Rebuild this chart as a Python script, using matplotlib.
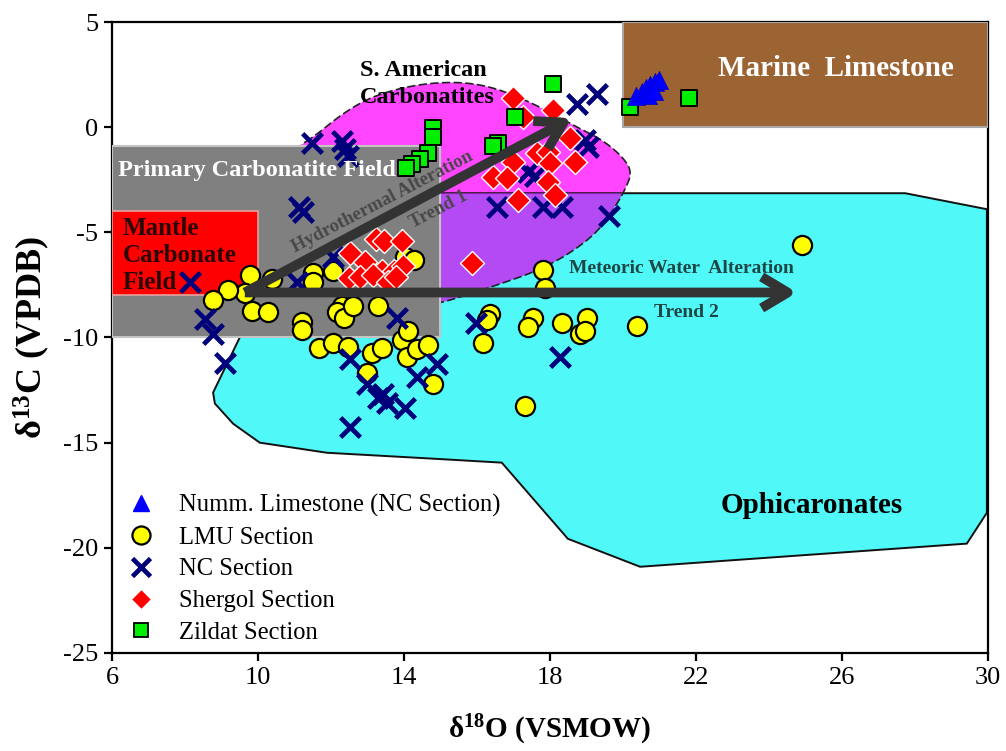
import numpy as np
import matplotlib
matplotlib.use("Agg")
import matplotlib.pyplot as plt
from matplotlib.patches import Polygon, Rectangle
from matplotlib.lines import Line2D

plt.rcParams['font.family'] = ['Liberation Serif', 'DejaVu Serif']
plt.rcParams['mathtext.fontset'] = 'custom'
plt.rcParams['mathtext.rm'] = 'Liberation Serif'
plt.rcParams['mathtext.bf'] = 'Liberation Serif:bold'
plt.rcParams['mathtext.it'] = 'Liberation Serif:italic'
plt.rcParams['axes.unicode_minus'] = False

# ---- sample data: delta18O (x) vs delta13C (y) ----
limestone_x = [20.36, 20.52, 20.63, 20.74, 20.88, 20.99, 20.68, 20.85]
limestone_y = [1.48, 1.67, 1.86, 2.00, 2.14, 2.24, 1.52, 1.71]

lmu_x = [9.78, 9.64, 9.18, 8.77, 9.84, 10.27, 10.38, 11.21, 11.21, 11.51,
         11.51, 12.05, 12.30, 12.16, 12.36, 12.60, 13.29, 14.03, 14.27, 11.67,
         12.05, 12.47, 13.12, 13.40, 13.95, 14.08, 14.36, 14.66, 14.79, 12.99,
         14.11, 17.81, 17.86, 16.36, 16.27, 16.16, 17.53, 17.40, 18.33, 19.01,
         18.82, 18.96, 20.38, 24.90, 17.32]
lmu_y = [-7.05, -7.90, -7.76, -8.24, -8.76, -8.81, -7.24, -9.24, -9.62, -6.95,
         -7.38, -6.86, -8.48, -8.81, -9.05, -8.52, -8.48, -6.19, -6.33, -10.48,
         -10.24, -10.43, -10.76, -10.48, -10.14, -10.95, -10.57, -10.38, -12.19, -11.67,
         -9.67, -6.81, -7.67, -8.86, -9.19, -10.24, -9.05, -9.48, -9.29, -9.05,
         -9.81, -9.67, -9.43, -5.62, -13.24]

nc_x = [8.14, 11.12, 11.23, 12.05, 11.07, 8.55, 8.77, 9.10, 13.81, 12.52,
        12.99, 13.42, 13.53, 13.29, 14.03, 12.52, 14.36, 14.90, 18.27, 15.97,
        11.48, 12.30, 12.38, 12.47, 18.74, 19.29, 19.04, 18.96, 17.40, 17.59,
        16.55, 17.81, 18.33, 19.62]
nc_y = [-7.38, -3.81, -4.05, -6.19, -7.38, -9.10, -9.81, -11.19, -9.05, -11.00,
        -12.19, -12.71, -13.10, -12.90, -13.33, -14.24, -11.90, -11.24, -10.95, -9.29,
        -0.76, -0.67, -1.05, -1.38, 1.10, 1.57, -0.95, -0.62, -2.14, -2.33,
        -3.81, -3.81, -3.81, -4.24]

shergol_x = [16.99, 17.26, 18.08, 18.55, 17.64, 17.95, 18.00, 18.68, 16.99, 16.44,
             16.82, 17.95, 18.14, 17.12, 15.86,
             13.23, 13.45, 13.95, 12.52, 12.93, 13.40, 13.73, 13.97, 12.49, 12.79,
             13.15, 13.56, 13.78]
shergol_y = [1.38, 0.48, 0.81, -0.52, -1.24, -1.19, -1.71, -1.67, -1.67, -2.38,
             -2.43, -2.62, -3.24, -3.48, -6.48,
             -5.33, -5.43, -5.43, -6.00, -6.43, -6.86, -6.86, -6.62, -7.19, -7.14,
             -7.05, -7.38, -7.10]

zildat_x = [18.08, 17.04, 16.58, 16.44, 20.19, 21.81, 14.79, 14.79, 14.66, 14.44,
            14.22, 14.05]
zildat_y = [2.05, 0.48, -0.76, -0.90, 0.95, 1.38, -0.05, -0.48, -1.24, -1.52,
            -1.76, -1.95]

series_labels = ['Numm. Limestone (NC Section)', 'LMU Section', 'NC Section',
                 'Shergol Section', 'Zildat Section']

x_ticks = [6, 10, 14, 18, 22, 26, 30]
y_ticks = [-25, -20, -15, -10, -5, 0, 5]

# ---- field outlines ----
ophi_outline = [(11.2, -3.14), (27.73, -3.14), (29.97, -3.9), (29.97, -18.33),
                (29.42, -19.8), (20.47, -20.9), (18.49, -19.57), (16.68, -15.95),
                (14.79, -15.76), (11.89, -15.48), (10.05, -15.0), (9.32, -14.1),
                (8.82, -13.14), (8.77, -12.62), (9.5, -10.0)]

sam_outline = [(11.15, -0.86), (11.51, -0.48), (12.44, 0.81), (13.34, 1.62),
               (14.71, 2.14), (16.08, 2.10), (17.37, 1.29), (18.74, 0.0),
               (19.45, -0.62), (20.0, -1.43), (20.25, -2.14), (20.05, -3.0),
               (19.73, -3.95), (19.18, -5.24), (17.92, -6.67), (16.36, -7.62),
               (14.99, -8.38), (13.89, -8.71), (12.52, -8.24), (11.15, -6.33),
               (10.74, -3.48), (10.88, -1.57)]


def chaikin(points, n_iter=3):
    pts = np.asarray(points, float)
    for _ in range(n_iter):
        nxt = np.roll(pts, -1, axis=0)
        q = 0.75 * pts + 0.25 * nxt
        r = 0.25 * pts + 0.75 * nxt
        pts = np.empty((2 * len(q), 2))
        pts[0::2] = q
        pts[1::2] = r
    return pts


fig = plt.figure(figsize=(10.06, 7.51), dpi=100)
ax = fig.add_axes([0.1113, 0.1305, 0.8708, 0.8402])
ax.set_xlim(6, 30)
ax.set_ylim(-25, 5)

sam_smooth = chaikin(sam_outline, 3)

# S. American carbonatite field
ax.add_patch(Polygon(sam_smooth, closed=True, facecolor='#ff45ff',
                     edgecolor='none', zorder=1))
# Ophicarbonate field
ophi_fill = Polygon(ophi_outline, closed=True, facecolor='#50f8f8',
                    edgecolor='#111111', lw=1.4, zorder=2)
ax.add_patch(ophi_fill)
# overlap of the two fields
overlap = Polygon(sam_smooth, closed=True, facecolor='#c62cf4',
                  edgecolor='none', alpha=0.85, zorder=3)
ax.add_patch(overlap)
overlap.set_clip_path(ophi_fill)
ax.add_patch(Polygon(sam_smooth, closed=True, fill=False, edgecolor='#222222',
                     lw=1.2, linestyle=(0, (5, 2)), zorder=3.1))

# rectangular fields
ax.add_patch(Rectangle((6, -10), 9, 9.1, facecolor='#808080',
                       edgecolor='#c4c4c4', lw=1.5, zorder=4))
ax.add_patch(Rectangle((6, -8), 4, 4, facecolor='#ff0000',
                       edgecolor='#e6a0a0', lw=1.2, zorder=4.1))
ax.add_patch(Rectangle((20, 0), 10, 5, facecolor='#9b6432',
                       edgecolor='#a8a8a8', lw=1.5, zorder=4))

# samples
ax.scatter(lmu_x, lmu_y, s=190, marker='o', facecolor='#ffff00',
           edgecolor='black', linewidth=1.6, zorder=5)
ax.scatter(nc_x, nc_y, s=200, marker='x', color='#00007a',
           linewidth=3.4, zorder=6)
ax.scatter(shergol_x, shergol_y, s=150, marker='D', facecolor='#ff0000',
           edgecolor='white', linewidth=1.0, zorder=7)
ax.scatter(zildat_x, zildat_y, s=140, marker='s', facecolor='#00ee00',
           edgecolor='black', linewidth=1.4, zorder=8)
ax.scatter(limestone_x, limestone_y, s=170, marker='^', facecolor='#0000ff',
           edgecolor='#0000cc', linewidth=0.5, zorder=9)

# alteration trends
trend_start = (9.64, -7.86)
arrow_kw = dict(arrowstyle='->,head_length=0.75,head_width=0.45', lw=7,
                color='#333333', shrinkA=0, shrinkB=0, mutation_scale=25,
                capstyle='butt')
ax.annotate('', xy=(18.6, 0.43), xytext=trend_start,
            arrowprops=arrow_kw, zorder=10)
ax.annotate('', xy=(24.77, -7.86), xytext=trend_start,
            arrowprops=arrow_kw, zorder=10)

# field and trend labels
ax.text(6.16, -2.05, 'Primary Carbonatite Field', color='white',
        fontsize=17.5, fontweight='bold', ha='left', va='center', zorder=11)
ax.text(6.3, -6.1, 'Mantle\nCarbonate\nField', color='#2a0505',
        fontsize=18, fontweight='bold', ha='left', va='center',
        linespacing=1.22, zorder=11)
ax.text(12.79, 2.05, 'S. American\nCarbonatites', color='black',
        fontsize=17.5, fontweight='bold', ha='left', va='center',
        linespacing=1.35, zorder=11)
ax.text(25.84, 2.81, 'Marine  Limestone', color='white', fontsize=21,
        fontweight='bold', ha='center', va='center', zorder=11)
ax.text(13.4, -3.55, 'Hydrothermal Alteration', color='#474747',
        fontsize=13.5, fontweight='bold', ha='center', va='center',
        rotation=27.5, rotation_mode='anchor', zorder=11)
ax.text(14.95, -3.9, 'Trend 1', color='#474747', fontsize=13.5,
        fontweight='bold', ha='center', va='center', rotation=27.5,
        rotation_mode='anchor', zorder=11)
ax.text(21.59, -6.71, 'Meteoric Water  Alteration', color='#1e4646',
        fontsize=14, fontweight='bold', ha='center', va='center', zorder=11)
ax.text(21.73, -8.81, 'Trend 2', color='#1e4646', fontsize=14,
        fontweight='bold', ha='center', va='center', zorder=11)
ax.text(25.18, -18.0, 'Ophicaronates', color='black', fontsize=21,
        fontweight='bold', ha='center', va='center', zorder=11)

# legend
handles = [
    Line2D([], [], ls='none', marker='^', ms=11, mfc='#0000ff', mec='#0000ff'),
    Line2D([], [], ls='none', marker='o', ms=13, mfc='#ffff00', mec='black', mew=1.6),
    Line2D([], [], ls='none', marker='x', ms=13, color='#00007a', mew=3.4),
    Line2D([], [], ls='none', marker='D', ms=10, mfc='#ff0000', mec='white', mew=0.8),
    Line2D([], [], ls='none', marker='s', ms=10, mfc='#00ee00', mec='black', mew=1.3),
]
ax.legend(handles, series_labels, loc='upper left', bbox_to_anchor=(0.002, 0.268),
          frameon=False, prop={'size': 17.7}, handlelength=1.4, handletextpad=0.85,
          labelspacing=0.39, borderaxespad=0.0, borderpad=0.4)

# axes styling
ax.set_xticks(x_ticks)
ax.set_yticks(y_ticks)
ax.tick_params(axis='both', which='major', direction='out', length=6, width=1.6,
               labelsize=19, top=False, right=False, pad=4)
for sp in ax.spines.values():
    sp.set_linewidth(1.6)

ax.set_xlabel(r'$\mathbf{\delta^{18}}$O (VSMOW)', fontsize=21, fontweight='bold')
ax.xaxis.set_label_coords(0.5, -0.095)
ax.set_ylabel(r'$\mathbf{\delta^{13}}$C (VPDB)', fontsize=26, fontweight='bold')
ax.yaxis.set_label_coords(-0.091, 0.50)
ax.yaxis.label.set_va('center')

fig.savefig('out.png', dpi=100)
